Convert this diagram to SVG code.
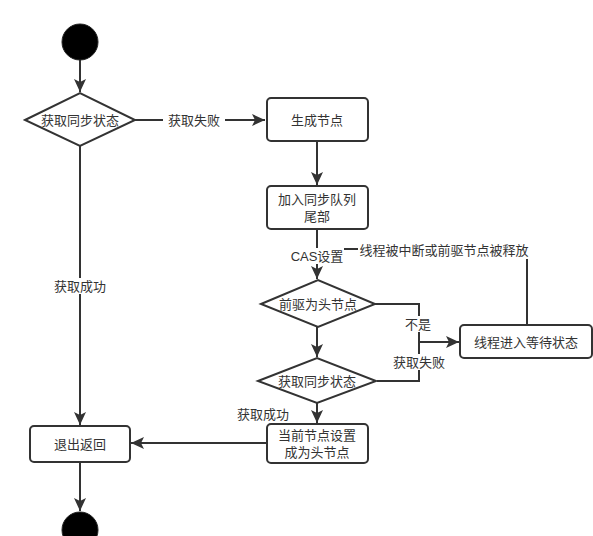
<svg xmlns="http://www.w3.org/2000/svg" width="593" height="536" viewBox="0 0 593 536">
<defs>
<style>
.n{fill:#fff;stroke:#333;stroke-width:2}
.c{fill:none;stroke:#333;stroke-width:2}
.t{font-family:"Liberation Sans","Noto Sans CJK SC",sans-serif;font-size:13px;fill:#333;text-anchor:middle;dominant-baseline:central}
.bg{fill:#fff}
</style>
<marker id="a" viewBox="0 0 14 14" refX="13" refY="7" markerWidth="14" markerHeight="14" markerUnits="userSpaceOnUse" orient="auto">
<path d="M0,1 L13,7 L0,13 L3,7 Z" fill="#333"/>
</marker>
</defs>
<rect width="593" height="536" fill="#fff"/>
<g id="connectors">
<line class="c" x1="80" y1="60" x2="80" y2="92" marker-end="url(#a)"/>
<line class="c" x1="135" y1="120" x2="265" y2="120" marker-end="url(#a)"/>
<line class="c" x1="317" y1="141" x2="317" y2="185" marker-end="url(#a)"/>
<line class="c" x1="317" y1="229" x2="317" y2="279" marker-end="url(#a)"/>
<polyline class="c" points="527,324 527,249 343,249"/>
<line class="c" x1="317" y1="327" x2="317" y2="357" marker-end="url(#a)"/>
<polyline class="c" points="375,304 419,304 419,381 377,381"/>
<line class="c" x1="419" y1="342" x2="459" y2="342" marker-end="url(#a)"/>
<line class="c" x1="317" y1="403" x2="317" y2="423" marker-end="url(#a)"/>
<line class="c" x1="267" y1="443" x2="131" y2="443" marker-end="url(#a)"/>
<line class="c" x1="80" y1="146" x2="80" y2="425" marker-end="url(#a)"/>
<line class="c" x1="80" y1="462" x2="80" y2="511" marker-end="url(#a)"/>
<rect class="bg" x="163" y="112" width="62" height="16"/>
<text class="t" x="194" y="120">获取失败</text>
<rect class="bg" x="290" y="248" width="54" height="16"/>
<text class="t" x="317" y="256">CAS设置</text>
<rect class="bg" x="358" y="241" width="172" height="18"/>
<text class="t" x="444" y="250">线程被中断或前驱节点被释放</text>
<rect class="bg" x="402" y="316" width="32" height="16"/>
<text class="t" x="418" y="324">不是</text>
<rect class="bg" x="390" y="354" width="58" height="16"/>
<text class="t" x="419" y="362">获取失败</text>
<text class="t" x="263" y="414">获取成功</text>
<rect class="bg" x="52" y="278" width="56" height="16"/>
<text class="t" x="80" y="286">获取成功</text>
</g>
<g id="start"><circle cx="80" cy="42" r="18" fill="#000" stroke="#222" stroke-width="1"/></g>
<g id="d1"><polygon class="n" points="25,120 80,93 135,120 80,146"/><text class="t" x="80" y="120">获取同步状态</text></g>
<g id="b1"><rect class="n" x="267" y="98" width="101" height="43" rx="4"/><text class="t" x="317" y="120">生成节点</text></g>
<g id="b2"><rect class="n" x="267" y="186" width="101" height="43" rx="4"/><text class="t" x="317" y="199">加入同步队列</text><text class="t" x="317" y="216">尾部</text></g>
<g id="d2"><polygon class="n" points="261,304 318,280 375,304 318,327"/><text class="t" x="318" y="304">前驱为头节点</text></g>
<g id="b3"><rect class="n" x="460" y="325" width="132" height="33" rx="4"/><text class="t" x="526" y="342">线程进入等待状态</text></g>
<g id="d3"><polygon class="n" points="258,381 317,358 376,381 317,403"/><text class="t" x="317" y="381">获取同步状态</text></g>
<g id="b4"><rect class="n" x="267" y="424" width="101" height="39" rx="4"/><text class="t" x="317" y="435">当前节点设置</text><text class="t" x="317" y="452">成为头节点</text></g>
<g id="b5"><rect class="n" x="30" y="426" width="100" height="36" rx="4"/><text class="t" x="80" y="444">退出返回</text></g>
<g id="end"><circle cx="80" cy="530" r="18" fill="#000" stroke="#222" stroke-width="1"/></g>
</svg>
